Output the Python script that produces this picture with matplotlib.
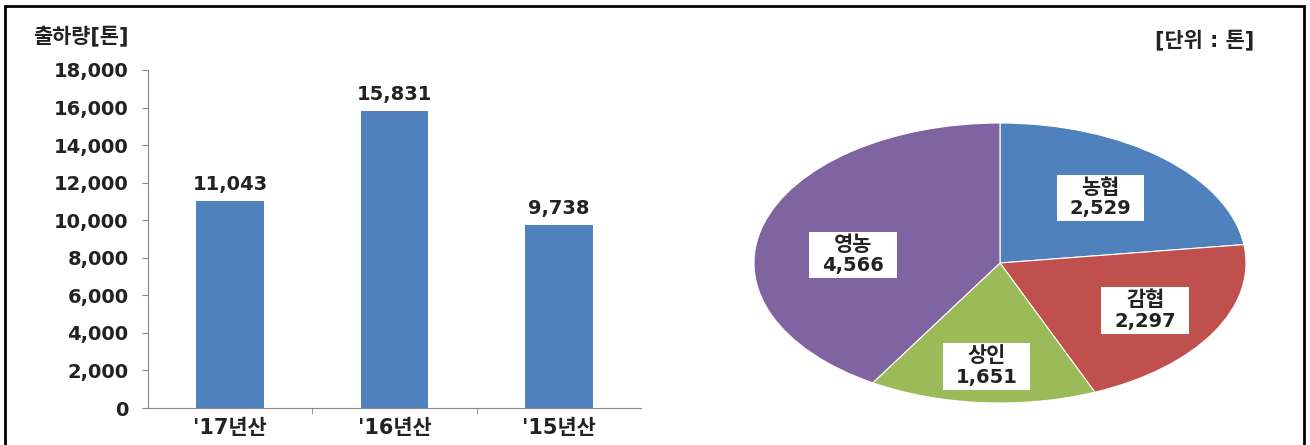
import numpy as np
import matplotlib.pyplot as plt
from matplotlib.patches import Rectangle
from matplotlib.transforms import Bbox

plt.rcParams['font.family'] = ['DejaVu Sans', 'Noto Sans CJK KR']

# bar data
years = ["'17년산", "'16년산", "'15년산"]
shipments = [11043, 15831, 9738]

# pie data
buyers = ["농협", "감협", "상인", "영농"]
buyer_tons = [2529, 2297, 1651, 4566]
buyer_colors = ["#4F81BD", "#C0504D", "#9BBB59", "#8064A2"]

fig = plt.figure(figsize=(13.1, 4.45), dpi=100)

# outer frame
fig.patches.append(Rectangle((5 / 1310, -0.1), 1299 / 1310, 1.1 - 6 / 445,
                             transform=fig.transFigure, fill=False,
                             edgecolor="black", linewidth=2))

# 1. bar chart
ax = fig.add_axes([148 / 1310, 1 - 408 / 445, 493 / 1310, 338 / 445])
x = range(len(years))
ax.bar(x, shipments, width=0.41, color="#4F81BD")
for xi, v in zip(x, shipments):
    ax.annotate(f"{v:,}", (xi, v), xytext=(0, 5), textcoords="offset points",
                ha="center", va="bottom", fontsize=14, fontweight="bold",
                color="#222222")

ax.set_xlim(-0.5, 2.5)
ax.set_ylim(0, 18000)
ax.set_yticks(range(0, 18001, 2000))
ax.set_yticklabels([f"{t:,}" for t in range(0, 18001, 2000)],
                   fontsize=14, fontweight="bold", color="#222222")
ax.set_xticks(list(x))
ax.set_xticklabels(years, fontsize=15, fontweight="bold", color="#222222")
ax.set_xticks([0.5, 1.5], minor=True)
ax.tick_params(axis="x", which="major", length=0, pad=7)
ax.tick_params(axis="x", which="minor", length=4, color="#888888")
ax.tick_params(axis="y", length=4, color="#888888", pad=10)
for s in ["top", "right"]:
    ax.spines[s].set_visible(False)
for s in ["left", "bottom"]:
    ax.spines[s].set_color("#888888")

fig.text(33 / 1310, 1 - 37 / 445, "출하량[톤]", fontsize=15, fontweight="bold",
         color="#222222", va="center", ha="left")
fig.text(1205 / 1310, 1 - 40 / 445, "[단위 : 톤]", fontsize=15, fontweight="bold",
         color="#222222", va="center", ha="center")

# 2. pie chart (flattened)
pax = fig.add_axes([754 / 1310, 1 - 403 / 445, 492 / 1310, 280 / 445])
wedges, names, values = pax.pie(
    buyer_tons, colors=buyer_colors, startangle=90, counterclock=False,
    labels=buyers, autopct=lambda p: "",
    wedgeprops=dict(edgecolor="white", linewidth=0.8),
    textprops=dict(fontweight="bold", color="#222222", ha="center", va="center"))
pax.set_aspect("auto")
pax.set_xlim(-1, 1)
pax.set_ylim(-1, 1)

# name + value inside each wedge
label_r = [0.62, 0.68, 0.74, 0.6]
label_shift = [0, 0, 0, 10]
for w, n, val, tons, r, sh in zip(wedges, names, values, buyer_tons, label_r, label_shift):
    ang = np.deg2rad((w.theta1 + w.theta2) / 2 + sh)
    cx, cy = r * np.cos(ang), r * np.sin(ang)
    n.set_position((cx, cy + 0.072))
    n.set_fontsize(15)
    n.set_ha("center")
    n.set_zorder(5)
    val.set_text(f"{tons:,}")
    val.set_position((cx, cy - 0.078))
    val.set_fontsize(14)
    val.set_zorder(5)

# one white box behind each label pair
fig.canvas.draw()
inv = pax.transData.inverted()
for n, val in zip(names, values):
    bb = Bbox.union([n.get_window_extent(), val.get_window_extent()])
    (x0, y0), (x1, y1) = inv.transform([[bb.x0 - 13, bb.y0 - 3],
                                        [bb.x1 + 13, bb.y1 + 3]])
    pax.add_patch(Rectangle((x0, y0), x1 - x0, y1 - y0, facecolor="white",
                            edgecolor="none", zorder=4))

fig.savefig("out.png", dpi=100)
